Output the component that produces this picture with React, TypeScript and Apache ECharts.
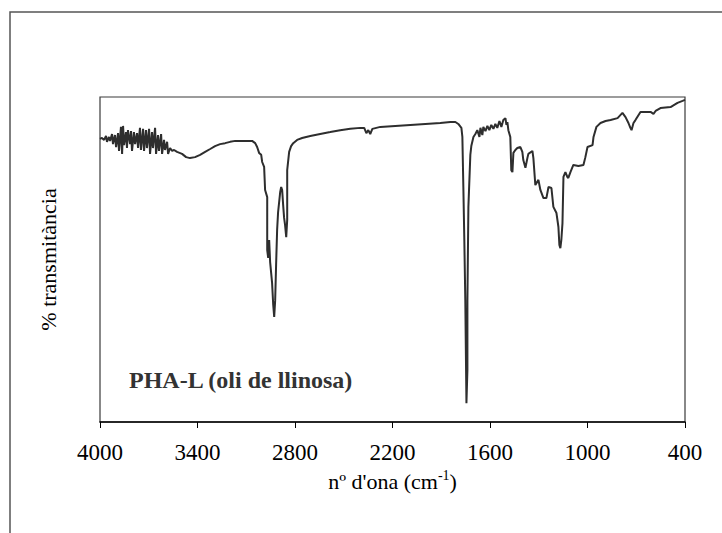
import React, { useEffect, useRef } from "react";
import * as echarts from "echarts";

// wavenumber (cm-1)
const wavenumbers: number[] = [
  4000, 3988, 3975, 3963, 3957, 3945, 3938, 3926, 3920, 3908, 3901, 3889, 3883, 3871, 3864, 3858,
  3852, 3840, 3834, 3828, 3815, 3809, 3803, 3791, 3784, 3772, 3766, 3754, 3748, 3735, 3729, 3717,
  3711, 3698, 3692, 3680, 3674, 3661, 3655, 3643, 3637, 3624, 3618, 3606, 3600, 3587, 3581, 3569,
  3556, 3544, 3526, 3495, 3470, 3446, 3415, 3384, 3353, 3322, 3292, 3261, 3230, 3199, 3168, 3107,
  3064, 3045, 3033, 3021, 3008, 3002, 2990, 2984, 2971, 2971, 2965, 2959, 2953, 2941, 2934, 2928,
  2922, 2916, 2910, 2904, 2891, 2885, 2879, 2873, 2867, 2861, 2854, 2848, 2848, 2836, 2824, 2811,
  2787, 2756, 2706, 2645, 2583, 2522, 2460, 2398, 2374, 2361, 2349, 2337, 2324, 2275, 2183, 2090,
  1998, 1906, 1844, 1813, 1795, 1776, 1770, 1764, 1758, 1752, 1745, 1739, 1739, 1733, 1721, 1715,
  1702, 1690, 1678, 1665, 1659, 1647, 1641, 1628, 1616, 1604, 1592, 1579, 1567, 1555, 1542, 1530,
  1518, 1505, 1499, 1493, 1487, 1475, 1469, 1462, 1456, 1444, 1432, 1413, 1401, 1395, 1382, 1370,
  1364, 1339, 1333, 1321, 1302, 1290, 1271, 1253, 1240, 1222, 1210, 1191, 1179, 1173, 1167, 1161,
  1154, 1148, 1136, 1124, 1118, 1105, 1087, 1056, 1025, 1013, 1000, 969, 963, 945, 920, 889,
  858, 815, 785, 766, 748, 736, 729, 717, 705, 674, 612, 594, 581, 551, 489, 446,
  415, 400,
];

// % transmittance
const transmittance: number[] = [
  87.1, 87.4, 86.8, 88.0, 86.2, 87.7, 86.5, 88.6, 85.5, 88.3, 84.6, 88.9, 83.4, 90.8, 82.5, 91.1,
  85.2, 89.2, 84.3, 89.8, 85.5, 89.5, 83.4, 89.2, 85.5, 88.9, 84.3, 90.5, 83.7, 90.2, 83.4, 89.8,
  84.3, 90.2, 82.5, 89.2, 84.3, 90.5, 82.5, 88.3, 83.4, 88.6, 82.5, 86.8, 83.7, 86.2, 82.5, 84.3,
  83.4, 83.7, 83.1, 82.5, 81.5, 81.2, 81.5, 82.2, 83.1, 84.0, 84.9, 85.5, 85.8, 86.2, 86.5, 86.5,
  86.5, 85.8, 84.6, 82.8, 82.2, 80.0, 78.5, 71.4, 69.2, 52.9, 50.5, 56.0, 49.2, 42.8, 36.0, 32.3,
  37.5, 48.9, 59.1, 64.6, 70.8, 72.3, 71.4, 66.8, 62.8, 60.6, 56.9, 62.2, 77.5, 83.1, 84.9, 85.8,
  86.8, 87.4, 88.0, 88.6, 89.2, 89.8, 90.2, 90.5, 90.5, 88.9, 89.8, 88.6, 90.2, 90.8, 91.1, 91.4,
  91.7, 92.0, 92.3, 92.3, 91.7, 90.5, 87.7, 72.3, 56.0, 37.5, 5.8, 16.0, 37.5, 66.2, 82.2, 84.9,
  87.7, 88.6, 89.8, 87.7, 90.5, 88.3, 90.8, 89.5, 91.1, 89.8, 91.4, 90.2, 91.7, 90.5, 92.6, 90.8,
  92.9, 93.5, 91.4, 92.3, 89.8, 87.7, 77.5, 76.9, 82.8, 83.7, 84.3, 84.6, 83.1, 80.6, 78.2, 81.2,
  82.5, 83.4, 81.2, 72.9, 74.5, 71.4, 68.9, 68.9, 72.3, 72.0, 66.2, 64.3, 60.0, 54.5, 53.5, 56.0,
  61.2, 75.4, 76.9, 75.4, 75.1, 76.9, 79.1, 78.8, 79.1, 81.5, 84.6, 85.2, 87.7, 90.8, 92.0, 92.6,
  92.9, 93.5, 95.1, 93.8, 92.0, 90.5, 89.8, 92.0, 92.9, 95.4, 95.4, 94.8, 95.7, 96.6, 96.9, 98.2,
  98.8, 99.1,
];

const xTicks: number[] = [400, 1000, 1600, 2200, 2800, 3400, 4000];

const xTitle = "nº d'ona (cm";
const yTitle = "% transmitància";
const sampleLabel = "PHA-L (oli de llinosa)";

const SERIF = "'Liberation Serif', 'Times New Roman', Times, serif";

export default function App() {
  const ref = useRef<HTMLDivElement>(null);

  useEffect(() => {
    document.body.style.margin = "0";
    if (!ref.current) return;
    const chart = echarts.init(ref.current, undefined, { renderer: "svg" });
    const data = wavenumbers.map((w, i) => [w, transmittance[i]]);
    chart.setOption({
      animation: false,
      backgroundColor: "#ffffff",
      grid: {
        left: 100,
        right: 37,
        top: 97,
        bottom: 111,
        show: true,
        borderColor: "#3a3a3a",
        borderWidth: 1.2,
      },
      xAxis: {
        type: "value",
        min: 400,
        max: 4000,
        inverse: true,
        axisLine: { show: true, lineStyle: { color: "#000", width: 1.5 } },
        axisTick: {
          show: true,
          customValues: xTicks,
          length: 6,
          lineStyle: { color: "#000", width: 1 },
        },
        axisLabel: {
          customValues: xTicks,
          formatter: (v: number) => String(v),
          color: "#000",
          fontFamily: SERIF,
          fontSize: 23,
          margin: 19,
        },
        splitLine: { show: false },
        name: `{a|${xTitle}}{s|-1}{a|)}`,
        nameLocation: "middle",
        nameGap: 33,
        nameTextStyle: {
          rich: {
            a: { fontFamily: SERIF, fontSize: 22, color: "#000" },
            s: { fontFamily: SERIF, fontSize: 14, color: "#000", verticalAlign: "top", padding: [0, 0, 12, 0] },
          },
        },
      },
      yAxis: {
        type: "value",
        min: 0,
        max: 100,
        axisLine: { show: false },
        axisTick: { show: false },
        axisLabel: { show: false },
        splitLine: { show: false },
        name: yTitle,
        nameLocation: "middle",
        nameGap: 41,
        nameRotate: 90,
        nameTextStyle: { fontFamily: SERIF, fontSize: 22, color: "#000" },
      },
      series: [
        {
          type: "line",
          data,
          showSymbol: false,
          symbol: "none",
          lineStyle: { color: "#2e2e2e", width: 2 },
          silent: true,
        },
      ],
      graphic: [
        {
          type: "polyline",
          shape: { points: [[10, 533], [10, 12], [722, 12]] },
          style: { stroke: "#555", lineWidth: 1.5, fill: "none" },
          silent: true,
        },
        {
          type: "text",
          left: 129,
          top: 368,
          style: {
            text: sampleLabel,
            fontFamily: SERIF,
            fontSize: 24,
            fontWeight: "bold",
            fill: "#333",
          },
        },
      ],
    });
    return () => chart.dispose();
  }, []);

  return <div ref={ref} style={{ width: 722, height: 533 }} />;
}
